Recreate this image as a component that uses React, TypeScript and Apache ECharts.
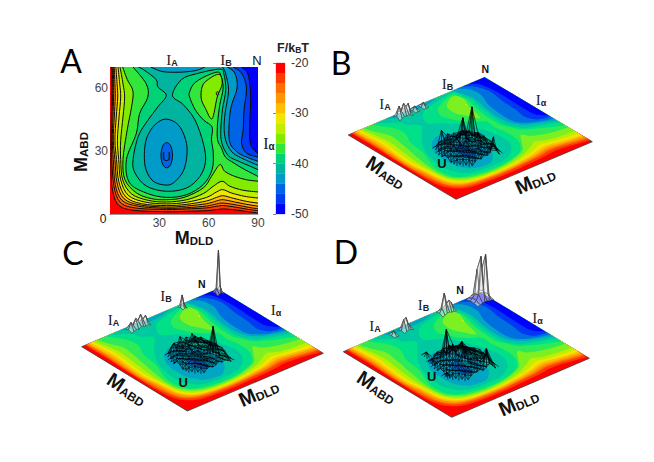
import React, { useEffect, useRef } from "react";
import * as echarts from "echarts";

/* ---------- free-energy colour scale (F/kBT) ---------- */
const bandLows = [-50, -48, -46, -44, -42, -40, -38, -36, -34, -32, -30, -28, -26, -24, -22];
const bandColors = ["#0000ff", "#003cf2", "#0064e6", "#009bc8", "#00b4a0", "#00d278", "#32e63c", "#82eb00", "#beee00", "#f0e600", "#ffbe00", "#ff9600", "#ff6e00", "#ff3c00", "#ff0000"];
const surfaceColors = ["#0000ff", "#0038f4", "#0070e0", "#00a6c4", "#00c8a0", "#00e088", "#2cea58", "#7cf020", "#beee00", "#f0e600", "#ffbe00", "#ff9600", "#ff6e00", "#ff3c00", "#ff0000"];

/* ---------- contours of F: [M_DLD, M_ABD] ---------- */
const c22 = [[1,70],[1,62],[1,55.7],[.8,46.2],[.6,35.1],[.6,24.3],[1.2,13.2],[4.5,4.9],[13.2,1.9],[34.4,1.1],[46.6,1.3],[58.7,1.6],[64.8,2.1],[69.2,2.4],[76.9,1.9],[84,1.1],[90,.5]];
const c24 = [[1.4,70],[1.6,62],[1.6,55.7],[1.2,46.2],[1,35.1],[1.2,24.3],[2.4,13.2],[6.1,5.7],[15.2,2.9],[34.4,2.1],[46.6,2.4],[58.7,2.9],[64.8,3.7],[69.2,4],[76.9,3.2],[84,2.2],[90,1.6]];
const c26 = [[2,70],[2.2,62],[2.2,55.7],[1.8,46.2],[1.4,35.1],[2,25.9],[3.2,14],[7.3,6.5],[17.2,3.7],[34.4,2.7],[46.6,3],[58.7,3.8],[64.8,4.8],[68.8,5.2],[76.9,4.3],[84,3.2],[90,2.5]];
const c28 = [[2.6,70],[3,62],[3.2,55.7],[2.6,46.2],[2,35.1],[3,25.9],[4.3,14.8],[8.5,7.3],[18.2,4.3],[34.4,3.3],[46.6,3.8],[58.7,4.9],[64.8,6.2],[68.8,6.8],[75.9,5.7],[83,4.6],[90,3.7]];
const c30 = [[3.6,70],[4.3,62],[4.7,55.7],[3.8,46.2],[3,35.1],[4,25.9],[5.3,15.6],[9.7,8.1],[19.2,4.9],[34.4,4],[46.6,4.6],[58.7,6.2],[64.8,7.9],[68.8,8.7],[74.9,7.5],[83,6],[90,5.2]];
const c32 = [[4.9,70],[5.9,62],[6.5,55.7],[5.5,46.2],[4.5,35.1],[5.3,25.9],[6.5,16.3],[11.1,8.9],[21.3,5.7],[34.4,4.8],[46.6,5.6],[58.7,7.9],[64.8,10.5],[68.6,11.6],[73.9,10],[82,8.4],[90,7.6]];
const c34 = [[6.1,70],[7.9,62],[8.9,55.7],[7.9,46.2],[6.5,35.1],[6.5,25.9],[7.7,16.3],[13.2,9.5],[23.3,6.5],[34.4,5.7],[46.6,6.8],[56.7,9.7],[62.8,13.2],[68.2,15.6],[72.9,13.2],[81,11.3],[90,10.5]];
const c36 = [[7.7,70],[10.5,64],[14,58.4],[13,50.5],[10.5,40.2],[7.9,25.9],[9.1,16.3],[16.2,10],[25.3,7.3],[34.4,6.8],[45,7.9],[56.7,12.4],[61.7,17.9],[66.8,23.5],[69.8,20.3],[75.9,17.9],[83,16.3],[90,15.6]];
const c38 = [[14,70],[22,62],[23,55.7],[18,47.8],[16,38.3],[10,25.9],[11.7,15.1],[22,10],[34.4,7.9],[46.6,9.2],[56.7,14],[62.1,21.1],[62.8,29],[61.7,35.4],[62.1,41.4],[57.1,44.6],[52,49.4],[48.4,55.7],[48.4,58.1],[51,62],[57.1,65.2],[65.2,67.6],[67.4,65.9],[68.8,60],[66.8,52.1],[65.4,43.3],[65.4,35.4],[67.8,31.4],[70.2,27.1],[75.3,24.3],[81.4,21.4],[90,17.9]];
const c40 = [[17.2,70],[21,68.4],[28.1,64],[29.1,60.5],[34.2,56.5],[29.1,51],[23,44.6],[17.2,37],[14,25.9],[15.2,19.5],[22.3,13.2],[34.4,10.8],[46.6,12.4],[54.7,17.9],[58.1,25.1],[56.7,33.8],[51.6,44.9],[44.5,52.1],[38,56.5],[43.5,64],[52.6,66.8],[66.8,69],[69.2,66.8],[70.4,59.2],[68.4,49.7],[67.4,40.2],[68,33.8],[71.9,27.8],[78.3,25.1],[85.4,22.7],[90,21.1]];
const eggM42 = [[34,45.2],[41.5,42.5],[46,35.4],[46.8,28.3],[44.5,20.3],[38.5,14.8],[33.4,13.8],[26.3,15.6],[21.9,21.1],[20.9,28.3],[22.3,36.2],[27.3,42.5]];
const capM42 = [[24.9,70],[29.4,68.4],[34.4,67.6],[44.5,67.6],[52.6,68.4],[57.7,70]];
const rightM42 = [[68.4,70],[70.2,67.1],[72.1,58.9],[70,48.1],[69.4,40.2],[70.9,33.8],[74.9,29],[82,25.9],[90,23.2]];
const rightM44 = [[71.3,70],[75.9,67.1],[77.3,60],[73.3,49.7],[72.5,35.4],[76.9,29.8],[83,27.1],[90,25.1]];
const uM44 = [[34.5,34],[37,32.3],[38,28],[37,23.7],[34.5,22],[32,23.7],[31,28],[32,32.3]];
const rightM46 = [[75,70],[80,67.1],[83,60],[81.5,49.7],[81,40.2],[80,33.8],[83,29],[90,27.1]];
const rightM48 = [[80,70],[84,66.3],[85.5,56],[85,41.7],[85.5,33],[90,28.7]];
const peakM36 = [[66.2,66.5],[68.2,62],[65.2,55.7],[62.1,45.4],[58.1,50.2],[55.5,54.9],[56,60.5],[59.1,63.7]];
const dotM34 = [[64.7,57.9],[65.8,58.2],[65.6,56.8],[64.9,56.6]];

const layers = [
  { pts: c22, low: -24, close: "corner" }, { pts: c24, low: -26, close: "corner" },
  { pts: c26, low: -28, close: "corner" }, { pts: c28, low: -30, close: "corner" },
  { pts: c30, low: -32, close: "corner" }, { pts: c32, low: -34, close: "corner" },
  { pts: c34, low: -36, close: "corner" }, { pts: c36, low: -38, close: "corner" },
  { pts: c38, low: -40, close: "corner" }, { pts: c40, low: -42, close: "corner" },
  { pts: eggM42, low: -44, close: "loop" }, { pts: capM42, low: -44, close: "open" },
  { pts: rightM42, low: -44, close: "corner" }, { pts: rightM44, low: -46, close: "corner" },
  { pts: uM44, low: -46, close: "loop" }, { pts: rightM46, low: -48, close: "corner" },
  { pts: rightM48, low: -50, close: "corner" }, { pts: peakM36, low: -36, close: "loop" },
  { pts: dotM34, low: -34, close: "loop" },
];

/* ---------- population heights over the free-energy surfaces ---------- */
const uHeightsB = [
  [0,0,0,0,3,5,3,6,4,6,20,5,0,0],[0,0,0,4,6,3,7,4,6,3,5,8,4,0],[0,0,4,7,3,8,5,9,4,7,6,3,7,0],
  [0,3,6,4,9,5,7,3,9,5,8,6,5,3],[0,5,3,8,5,10,4,8,6,11,5,9,3,5],[3,4,7,5,10,6,12,5,8,7,14,5,8,4],
  [3,6,5,9,4,8,5,13,7,10,6,11,5,6],[0,5,8,4,7,12,6,30,8,5,37,7,9,3],[0,6,4,8,5,7,10,8,14,9,11,5,7,0],
  [0,0,7,5,8,4,9,5,7,11,5,8,4,0],[0,0,4,7,4,8,4,6,5,7,4,6,0,0],[0,0,0,3,14,4,8,4,6,3,5,0,0,0],
];
const uHeightsC = [
  [0,0,0,0,3,4,2,3,5,3,4,2,0,0],[0,0,0,3,5,2,6,3,4,6,3,5,2,0],[0,0,4,6,3,7,4,7,4,6,5,3,4,0],
  [0,2,5,4,7,4,7,3,8,33,6,4,6,3],[0,4,3,7,4,8,4,7,5,9,4,7,4,5],[3,4,6,4,9,5,9,4,7,6,10,4,7,4],
  [4,6,4,8,4,7,5,9,6,8,5,9,4,5],[0,4,8,4,7,10,6,8,8,5,9,6,7,3],[0,5,4,8,5,6,9,7,11,8,10,5,6,0],
  [0,0,7,5,9,5,9,5,8,12,5,9,4,0],[0,0,4,11,5,10,4,9,5,8,5,6,0,0],[0,0,0,5,8,4,12,5,9,4,10,0,0,0],
];
const uHeightsD = [
  [0,0,0,0,3,5,4,6,3,5,7,4,0,0],[0,0,0,3,6,3,7,4,6,4,17,5,4,0],[0,0,4,6,3,7,5,8,4,7,5,17,5,0],
  [0,3,5,4,8,5,9,5,10,6,8,5,7,3],[0,5,3,7,5,9,22,8,6,11,5,9,4,5],[3,4,7,5,10,6,11,7,14,8,10,5,7,4],
  [4,6,5,9,7,12,8,16,9,12,6,8,5,6],[0,5,8,6,11,20,10,13,19,8,10,6,7,3],[0,6,5,9,34,9,12,8,12,14,6,7,5,0],
  [0,0,7,5,10,6,14,7,10,7,8,5,4,0],[0,0,4,8,5,9,4,8,6,7,5,5,0,0],[0,0,0,4,6,4,7,5,6,4,4,0,0,0],
];
const tinySpike = [[0,0,0],[0,4,0],[0,0,0]];
const iaHeightsB = [[0,2,3,2,3,1,0],[3,12,6,13,9,11,2],[1,3,4,3,4,2,0]];
const iaHeightsC = [[0,1,2,1,3,2,1,2,0],[2,8,4,10,7,12,6,9,3],[0,2,3,2,4,3,3,2,0]];
const ibHeightsC = [[0,1,1,0],[1,13,5,0],[0,2,1,0]];
const nHeightsC = [[0,1,2,1,0],[2,6,43,7,2],[1,3,5,2,1]];
const iaHeightsD = [[0,1,2,1,0],[1,11,12,5,1],[0,1,2,1,0]];
const ibHeightsD = [[0,1,2,2,1,1,0],[2,6,20,9,11,8,2],[1,2,4,3,3,2,1]];
const nHeightsD = [[0,1,2,2,2,1,1,0],[1,3,8,45,10,45,5,1],[1,3,6,30,8,28,4,1],[0,1,2,3,2,2,1,0]];

const meshesB = [
  { d0: 22, a0: 17, dStep: 2, aStep: 2, z: uHeightsB, kind: "dark" },
  { d0: 29, a0: 65, dStep: 1.5, aStep: 2, z: iaHeightsB, kind: "gray" },
  { d0: 40.5, a0: 66, dStep: 1.5, aStep: 2, z: tinySpike, kind: "gray" },
  { d0: 46, a0: 66, dStep: 1.5, aStep: 2, z: tinySpike, kind: "gray" },
];
const meshesC = [
  { d0: 25, a0: 20, dStep: 2, aStep: 2, z: uHeightsC, kind: "dark" },
  { d0: 28, a0: 65, dStep: 1.6, aStep: 2, z: iaHeightsC, kind: "gray" },
  { d0: 63, a0: 66, dStep: 1, aStep: 1.5, z: ibHeightsC, kind: "gray" },
  { d0: 85.5, a0: 65.5, dStep: 1, aStep: 1.5, z: nHeightsC, kind: "gray" },
];
const meshesD = [
  { d0: 24, a0: 19, dStep: 2, aStep: 2, z: uHeightsD, kind: "dark" },
  { d0: 27.5, a0: 43, dStep: 1.5, aStep: 2, z: tinySpike, kind: "dark" },
  { d0: 25.5, a0: 37.5, dStep: 1.5, aStep: 2, z: tinySpike, kind: "dark" },
  { d0: 22.5, a0: 24.7, dStep: 1.5, aStep: 2, z: tinySpike, kind: "dark" },
  { d0: 28.5, a0: 65, dStep: 1.5, aStep: 2, z: tinySpike, kind: "gray" },
  { d0: 35, a0: 65, dStep: 1.5, aStep: 2, z: iaHeightsD, kind: "gray" },
  { d0: 60, a0: 65, dStep: 1.5, aStep: 2, z: ibHeightsD, kind: "gray" },
  { d0: 80, a0: 62, dStep: 1.5, aStep: 2.5, z: nHeightsD, kind: "gray" },
];

/* ---------- layout ---------- */
const W = 654, H = 462;
const plotA = { left: 110, top: 67, width: 148, height: 147 };
const barRect = { left: 276, top: 63, width: 9, height: 151 };
const diamonds = {
  B: { left: [348.3, 135], right: [592.3, 141.7], bottom: [456, 199.3] },
  C: { left: [81.7, 346.7], right: [323.3, 353.3], bottom: [187.3, 411] },
  D: { left: [343.3, 351.7], right: [589.3, 358.3], bottom: [451.7, 417.3] },
};

function spline(p: number[][], loop: boolean) {
  const n = p.length;
  const at = (i: number) => (loop ? p[(i + n) % n] : p[Math.max(0, Math.min(n - 1, i))]);
  let d = `M${p[0][0].toFixed(2)} ${p[0][1].toFixed(2)}`;
  const segs = loop ? n : n - 1;
  for (let i = 0; i < segs; i++) {
    const p0 = at(i - 1), p1 = at(i), p2 = at(i + 1), p3 = at(i + 2);
    const c1x = p1[0] + (p2[0] - p0[0]) / 6, c1y = p1[1] + (p2[1] - p0[1]) / 6;
    const c2x = p2[0] - (p3[0] - p1[0]) / 6, c2y = p2[1] - (p3[1] - p1[1]) / 6;
    d += `C${c1x.toFixed(2)} ${c1y.toFixed(2)} ${c2x.toFixed(2)} ${c2y.toFixed(2)} ${p2[0].toFixed(2)} ${p2[1].toFixed(2)}`;
  }
  return d;
}

// the overlay grid fills the page: its pixel is turned into a point on a panel's tilted plane
function place(u: number, v: number, dm: any) {
  return [
    dm.bottom[0] + u * (dm.right[0] - dm.bottom[0]) + v * (dm.left[0] - dm.bottom[0]),
    dm.bottom[1] + u * (dm.right[1] - dm.bottom[1]) + v * (dm.left[1] - dm.bottom[1]),
  ];
}
function tilt(px: number[], dm: any) {
  return place(px[0] / W, (H - px[1]) / H, dm);
}
// the tilted surfaces have wider bands along the two high-energy walls
const wall = (t: number, edge: number, power: number) => (t < edge && t > 0 ? edge * Math.pow(t / edge, power) : t);
function tiltSurface(px: number[], dm: any) {
  return place(wall(px[0] / W, 0.24, 0.72), wall((H - px[1]) / H, 0.2, 0.68), dm);
}

function layerShapes(api: any, map: (p: number[]) => number[], withLines: boolean, palette: string[]) {
  const layer = layers[api.value(0)];
  const pix = layer.pts.map((p) => map(api.coord(p)));
  const loop = layer.close === "loop";
  const curve = spline(pix, loop);
  let fill = curve;
  if (layer.close === "corner") {
    const c = map(api.coord([90, 70]));
    fill += `L${c[0].toFixed(2)} ${c[1].toFixed(2)}`;
  }
  fill += "Z";
  const children: any[] = [{ type: "path", shape: { pathData: fill }, style: { fill: palette[bandLows.indexOf(layer.low)] } }];
  if (withLines) {
    children.push({
      type: "path",
      shape: { pathData: loop ? curve + "Z" : curve },
      style: { fill: "none", stroke: "#0a0a0a", lineWidth: 1 },
    });
  }
  return { type: "group", children };
}

function meshRender(list: any[], dm: any) {
  return (_: any, api: any) => {
    const m = list[api.value(0)];
    const node = (r: number, c: number) => {
      const b = tilt(api.coord([m.d0 + c * m.dStep, m.a0 + r * m.aStep]), dm);
      return [b[0], b[1] - m.z[r][c]];
    };
    const rows = m.z.length, cols = m.z[0].length;
    if (m.kind === "dark") {
      let d = "";
      const seg = (r1: number, c1: number, r2: number, c2: number) => {
        if (m.z[r1][c1] === 0 && m.z[r2][c2] === 0) return;
        const a = node(r1, c1), b = node(r2, c2);
        d += `M${a[0].toFixed(1)} ${a[1].toFixed(1)}L${b[0].toFixed(1)} ${b[1].toFixed(1)}`;
      };
      for (let r = 0; r < rows; r++)
        for (let c = 0; c < cols; c++) {
          if (c + 1 < cols) seg(r, c, r, c + 1);
          if (r + 1 < rows) seg(r, c, r + 1, c);
          if (c + 1 < cols && r + 1 < rows) {
            seg(r, c, r + 1, c + 1);
            seg(r, c + 1, r + 1, c);
          }
        }
      return { type: "path", shape: { pathData: d }, style: { fill: "none", stroke: "#03050c", lineWidth: 0.65 } };
    }
    const children: any[] = [];
    for (let r = rows - 2; r >= 0; r--)
      for (let c = 0; c + 1 < cols; c++) {
        if (!(m.z[r][c] || m.z[r][c + 1] || m.z[r + 1][c] || m.z[r + 1][c + 1])) continue;
        children.push({
          type: "polygon",
          shape: { points: [node(r, c), node(r, c + 1), node(r + 1, c + 1), node(r + 1, c)] },
          style: { fill: "rgba(238,238,238,0.55)", stroke: "#3c3c3c", lineWidth: 0.6 },
        });
      }
    return { type: "group", children };
  };
}

const sans = "'Liberation Sans', Arial, sans-serif";
const serif = "'Liberation Serif', serif";
const rad = (deg: number) => (deg * Math.PI) / 180;

function text(x: number, y: number, t: string, rich: any, extra: any = {}, rotation = 0) {
  return {
    type: "text", x, y, rotation, z: 100, silent: true,
    style: { text: t, align: "center", verticalAlign: "middle", fill: "#000", fontFamily: sans, rich, ...extra },
  };
}
const axisRich = (big: number, small: number) => ({
  m: { fontFamily: sans, fontWeight: "bold", fontSize: big, fill: "#111", verticalAlign: "bottom", lineHeight: big },
  s: { fontFamily: sans, fontWeight: "bold", fontSize: small, fill: "#111", verticalAlign: "bottom", lineHeight: big },
});
const stateRich = (big = 15, small = 9) => ({
  i: { fontFamily: serif, fontSize: big, fill: "#222", verticalAlign: "bottom", lineHeight: big },
  t: { fontFamily: sans, fontWeight: "bold", fontSize: small, fill: "#222", verticalAlign: "bottom", lineHeight: big },
});
const letter = (x: number, y: number, t: string) =>
  text(x, y, t, undefined, { fontFamily: "Lato, 'Open Sans', sans-serif", fontSize: 32, fill: "#000" });
const plain = (x: number, y: number, t: string, size: number, weight = "bold") =>
  text(x, y, t, undefined, { fontFamily: sans, fontSize: size, fontWeight: weight, fill: "#111" });

const graphicTexts = [
  letter(71, 60, "A"), letter(341, 62, "B"), letter(73, 252, "C"), letter(346, 251, "D"),
  text(81, 152, "{m|M}{s|ABD}", axisRich(18, 11.5), {}, rad(90)),
  text(194, 238, "{m|M}{s|DLD}", axisRich(18, 11.5)),
  text(172, 60, "{i|I}{t|A}", stateRich()), text(226, 60, "{i|I}{t|B}", stateRich()),
  plain(257, 60.5, "N", 13, "normal"), text(269, 143, "{i|I}{t|α}", stateRich(16, 10)),
  plain(166.5, 157, "U", 12, "normal"), plain(103, 219, "0", 12, "normal"),
  text(293, 47, "{a|F/k}{b|B}{a|T}", {
    a: { fontFamily: sans, fontWeight: "bold", fontSize: 12.5, fill: "#222", verticalAlign: "bottom", lineHeight: 15 },
    b: { fontFamily: sans, fontWeight: "bold", fontSize: 8.5, fill: "#222", verticalAlign: "bottom", lineHeight: 13 },
  }),
  // panel B
  plain(485.3, 69, "N", 10.5), text(447.5, 83.5, "{i|I}{t|B}", stateRich()), text(385, 103.5, "{i|I}{t|A}", stateRich()),
  text(541, 100, "{i|I}{t|α}", stateRich()), plain(442, 163.5, "U", 13),
  text(386, 172, "{m|M}{s|ABD}", axisRich(20, 12), {}, rad(-33)), text(535, 180, "{m|M}{s|DLD}", axisRich(20, 12), {}, rad(24)),
  // panel C
  plain(201.7, 284, "N", 10.5), text(166, 296, "{i|I}{t|B}", stateRich()), text(113.5, 319.5, "{i|I}{t|A}", stateRich()),
  text(276, 310, "{i|I}{t|α}", stateRich()), plain(183.3, 382, "U", 13),
  text(127, 389, "{m|M}{s|ABD}", axisRich(20, 12), {}, rad(-33)), text(258.5, 392.5, "{m|M}{s|DLD}", axisRich(20, 12), {}, rad(24)),
  // panel D
  plain(460, 289.5, "N", 10.5), text(423.5, 305, "{i|I}{t|B}", stateRich()), text(375, 326, "{i|I}{t|A}", stateRich()),
  text(537.5, 317.5, "{i|I}{t|α}", stateRich()), plain(431.7, 376, "U", 13),
  text(377, 387, "{m|M}{s|ABD}", axisRich(20, 12), {}, rad(-33)), text(518.5, 402, "{m|M}{s|DLD}", axisRich(20, 12), {}, rad(24)),
];

const layerData = layers.map((_, i) => [i, 0]);

function surface(dm: any) {
  return {
    type: "custom", xAxisIndex: 2, yAxisIndex: 2, clip: false, silent: true, data: layerData,
    renderItem: (_: any, api: any) => {
      const g = layerShapes(api, (p) => tiltSurface(p, dm), false, surfaceColors);
      if (api.value(0) === 0) {
        const back = {
          type: "polygon",
          shape: { points: [dm.left, dm.bottom, dm.right, [dm.left[0] + dm.right[0] - dm.bottom[0], dm.left[1] + dm.right[1] - dm.bottom[1]]] },
          style: { fill: "#ff0000", stroke: "#3a3a3a", lineWidth: 0.8 },
        };
        return { type: "group", children: [back, ...g.children] };
      }
      return g;
    },
  };
}
function meshes(list: any[], dm: any) {
  return {
    type: "custom", xAxisIndex: 2, yAxisIndex: 2, clip: false, silent: true,
    data: list.map((_, i) => [i, 0]), renderItem: meshRender(list, dm),
  };
}

const axisFont = { fontFamily: sans, fontSize: 12, color: "#444" };

export default function App() {
  const ref = useRef<HTMLDivElement>(null);
  useEffect(() => {
    const chart = echarts.init(ref.current!, null, { renderer: "svg", width: W, height: H });
    chart.setOption({
      animation: false,
      backgroundColor: "#fff",
      grid: [
        { ...plotA },
        { ...barRect },
        { left: 0, top: 0, width: W, height: H },
      ],
      xAxis: [
        {
          gridIndex: 0, type: "value", min: 0, max: 90, interval: 30, splitLine: { show: false }, axisTick: { show: false },
          axisLine: { show: true, onZero: false, lineStyle: { color: "#555", width: 0.6 } },
          axisLabel: { ...axisFont, margin: 3, showMinLabel: false, hideOverlap: false },
        },
        { gridIndex: 1, type: "value", min: 0, max: 1, show: false },
        { gridIndex: 2, type: "value", min: 0, max: 90, show: false },
      ],
      yAxis: [
        {
          gridIndex: 0, type: "value", min: 0, max: 70, interval: 30, splitLine: { show: false }, axisTick: { show: false },
          axisLine: { show: true, onZero: false, lineStyle: { color: "#555", width: 0.6 } },
          axisLabel: { ...axisFont, margin: 2, showMinLabel: false, showMaxLabel: false, padding: [0, 0, 4, 0] },
        },
        {
          gridIndex: 1, type: "value", position: "right", min: -50, max: -20, interval: 10, splitLine: { show: false },
          axisLine: { show: false },
          axisTick: { show: true, inside: true, length: 3, lineStyle: { color: "#333", width: 0.6 } },
          axisLabel: { ...axisFont, margin: 6, color: "#333" },
        },
        { gridIndex: 2, type: "value", min: 0, max: 70, show: false },
      ],
      graphic: { elements: graphicTexts },
      series: [
        {
          type: "custom", xAxisIndex: 0, yAxisIndex: 0, clip: true, silent: true, data: layerData, z: 1,
          renderItem: (_: any, api: any) => {
            const g = layerShapes(api, (p) => p, true, bandColors);
            if (api.value(0) === 0) {
              const tl = api.coord([0, 70]), br = api.coord([90, 0]);
              return {
                type: "group",
                children: [
                  { type: "rect", shape: { x: tl[0], y: tl[1], width: br[0] - tl[0], height: br[1] - tl[1] }, style: { fill: "#ff0000" } },
                  ...g.children,
                ],
              };
            }
            return g;
          },
        },
        {
          type: "custom", xAxisIndex: 1, yAxisIndex: 1, clip: false, silent: true, z: 1,
          data: bandLows.map((low) => [0, low]),
          renderItem: (_: any, api: any) => {
            const low = api.value(1);
            const a = api.coord([0, low + 2]), b = api.coord([1, low]);
            const c = bandColors[bandLows.indexOf(low)];
            return { type: "rect", shape: { x: a[0], y: a[1], width: b[0] - a[0], height: b[1] - a[1] }, style: { fill: c, stroke: c, lineWidth: 0.3 } };
          },
        },
        surface(diamonds.B), surface(diamonds.C), surface(diamonds.D),
        meshes(meshesB, diamonds.B), meshes(meshesC, diamonds.C), meshes(meshesD, diamonds.D),
      ],
    });
    return () => chart.dispose();
  }, []);
  return <div ref={ref} style={{ position: "fixed", left: 0, top: 0, width: W, height: H, background: "#fff" }} />;
}
